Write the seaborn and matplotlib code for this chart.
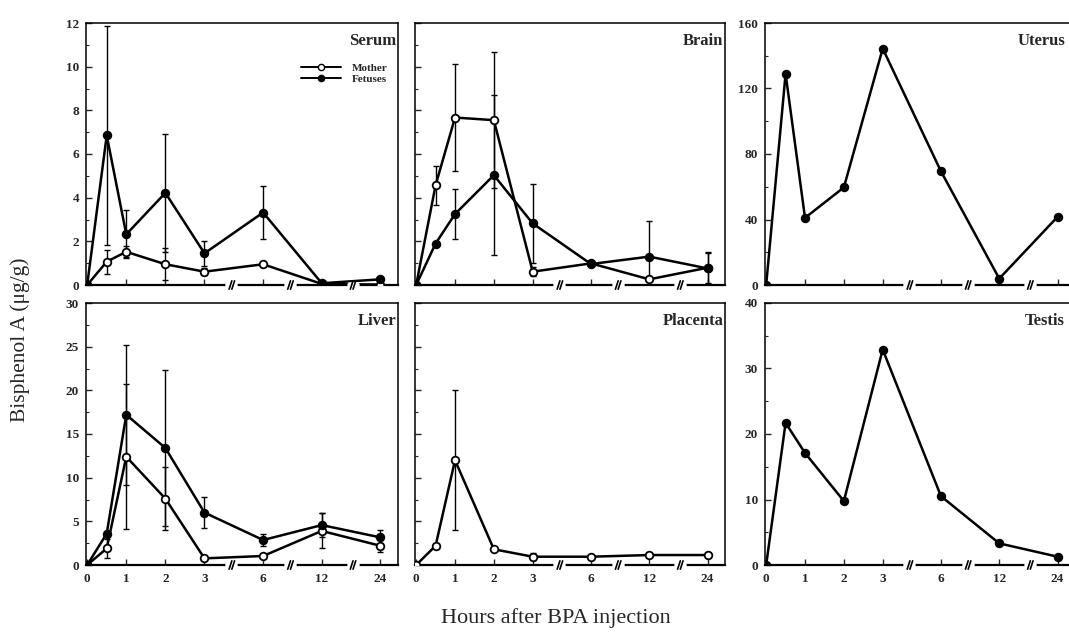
import numpy as np
import matplotlib
matplotlib.use('Agg')
import matplotlib.pyplot as plt
import seaborn as sns
from matplotlib.lines import Line2D
from matplotlib.ticker import MultipleLocator

# Data
hours = [0, 0.5, 1, 2, 3, 6, 12, 24]
hour_labels = ['0', '1', '2', '3', '6', '12', '24']
label_hours = [0, 1, 2, 3, 6, 12, 24]

serum_mother = [0, 1.07, 1.52, 0.95, 0.61, 0.95, 0.05, 0.02]
serum_mother_err = [0, 0.55, 0.25, 0.73, 0.15, 0, 0, 0]
serum_fetus = [0, 6.85, 2.32, 4.22, 1.45, 3.32, 0.08, 0.26]
serum_fetus_err = [0, 5.0, 1.1, 2.7, 0.58, 1.2, 0, 0]

brain_mother = [0, 4.57, 7.67, 7.55, 0.61, 0.99, 0.26, 0.79]
brain_mother_err = [0, 0.9, 2.45, 3.1, 0.2, 0, 0, 0.7]
brain_fetus = [0, 1.9, 3.25, 5.03, 2.82, 0.96, 1.3, 0.76]
brain_fetus_err = [0, 0, 1.15, 3.66, 1.8, 0, 1.65, 0.7]

uterus = [0, 129, 41, 59.6, 144.4, 69.4, 3.9, 41.6]

liver_mother = [0, 1.9, 12.4, 7.6, 0.76, 1.03, 3.9, 2.2]
liver_mother_err = [0, 1.1, 8.3, 3.6, 0, 0, 2.0, 0.7]
liver_fetus = [0, 3.6, 17.2, 13.4, 6.0, 2.86, 4.57, 3.16]
liver_fetus_err = [0, 0, 8.0, 8.9, 1.8, 0.7, 1.4, 0.8]

placenta_mother = [0, 2.2, 12.0, 1.8, 0.95, 0.95, 1.14, 1.14]
placenta_mother_err = [0, 0, 8.0, 0, 0.4, 0, 0, 0]

testis = [0, 21.7, 17.1, 9.76, 32.9, 10.5, 3.3, 1.27]


def broken_pos(h):
    # linear up to 3 h, then equal steps per doubling (broken axis)
    h = np.asarray(h, dtype=float)
    return np.where(h <= 3, h, 3 + 1.5 * np.log2(np.maximum(h, 3) / 3))


sns.set_style('ticks')
plt.rcParams['font.family'] = ['Liberation Serif', 'DejaVu Serif']

fig = plt.figure(figsize=(10.69, 6.35), dpi=100)
W, H = 1069, 635


def make_ax(l, r, t, b):
    return fig.add_axes([l / W, 1 - b / H, (r - l) / W, (b - t) / H])


ax_serum = make_ax(86, 398, 23, 285)
ax_brain = make_ax(415, 725, 23, 285)
ax_uterus = make_ax(765, 1075, 23, 285)
ax_liver = make_ax(86, 398, 303, 565)
ax_placenta = make_ax(415, 725, 303, 565)
ax_testis = make_ax(765, 1075, 303, 565)

xpos = broken_pos(hours)
tick_font = dict(family='Liberation Serif', weight='bold', size=9.5)


def series(ax, vals, err=None, filled=True):
    if err is not None:
        e = np.asarray(err)
        m = e > 0
        ax.errorbar(xpos[m], np.asarray(vals)[m], yerr=e[m], fmt='none',
                    ecolor='black', elinewidth=1.0, capsize=2, capthick=1.0, zorder=2)
    sns.lineplot(x=xpos, y=vals, ax=ax, color='black', lw=1.8, marker='o',
                 markersize=5.5, markeredgecolor='black', markeredgewidth=1.3,
                 markerfacecolor='black' if filled else 'white', zorder=3)


def style(ax, ymax, major, minor, title, ylabels=True, xlabels=False, title_x=0.995):
    ax.set_xlim(-0.03, 7.95)
    ax.set_ylim(0, ymax)
    ax.set_xlabel('')
    ax.set_ylabel('')
    ax.yaxis.set_major_locator(MultipleLocator(major))
    ax.yaxis.set_minor_locator(MultipleLocator(minor))
    ax.set_xticks(broken_pos(label_hours))
    ax.tick_params(which='both', direction='in', top=False, right=False)
    ax.tick_params(axis='x', pad=6)
    ax.tick_params(axis='y', pad=5)
    ax.tick_params(which='major', length=4, width=1)
    ax.tick_params(which='minor', length=2, width=0.8)
    if xlabels:
        ax.set_xticklabels(hour_labels, fontdict=tick_font)
    else:
        ax.set_xticklabels([])
    if ylabels:
        ax.set_yticks(ax.get_yticks())
        ax.set_yticklabels([f'{v:g}' for v in ax.get_yticks()], fontdict=tick_font)
        ax.set_ylim(0, ymax)
    else:
        ax.set_yticklabels([])
    for s in ax.spines.values():
        s.set_linewidth(1.1)
        s.set_color('black')
    ax.spines['bottom'].set_linewidth(1.6)
    ax.text(title_x, 0.96, title, transform=ax.transAxes, ha='right', va='top',
            fontsize=12, fontweight='bold', family='Liberation Serif')
    # axis break marks on the time axis
    trans = ax.get_xaxis_transform()
    for hb in [3.7, 5.2, 6.8]:
        ax.plot([hb - 0.09, hb + 0.09], [0, 0], color='white', lw=4,
                transform=trans, clip_on=False, zorder=5)
        for dx in (-0.035, 0.035):
            ax.plot([hb + dx - 0.035, hb + dx + 0.035], [-0.016, 0.016], color='black',
                    lw=1.2, transform=trans, clip_on=False, zorder=8)


series(ax_serum, serum_mother, serum_mother_err, filled=False)
series(ax_serum, serum_fetus, serum_fetus_err, filled=True)
style(ax_serum, 12, 2, 1, 'Serum')
handles = [Line2D([], [], color='black', lw=1.4, marker='o', ms=4.5,
                  markerfacecolor='white', markeredgecolor='black'),
           Line2D([], [], color='black', lw=1.4, marker='o', ms=4.5,
                  markerfacecolor='black', markeredgecolor='black')]
ax_serum.legend(handles, ['Mother', 'Fetuses'], loc='upper right',
                bbox_to_anchor=(1.0, 0.885), frameon=False, handlelength=3.6,
                handletextpad=1.0, labelspacing=0.15,
                prop=dict(family='Liberation Serif', weight='bold', size=8))

series(ax_brain, brain_mother, brain_mother_err, filled=False)
series(ax_brain, brain_fetus, brain_fetus_err, filled=True)
style(ax_brain, 12, 2, 1, 'Brain', ylabels=False)

series(ax_uterus, uterus, filled=True)
style(ax_uterus, 160, 40, 20, 'Uterus', title_x=0.968)
ax_uterus.spines['right'].set_visible(False)

series(ax_liver, liver_mother, liver_mother_err, filled=False)
series(ax_liver, liver_fetus, liver_fetus_err, filled=True)
style(ax_liver, 30, 5, 2.5, 'Liver', xlabels=True)

series(ax_placenta, placenta_mother, placenta_mother_err, filled=False)
style(ax_placenta, 30, 5, 2.5, 'Placenta', ylabels=False, xlabels=True)

series(ax_testis, testis, filled=True)
style(ax_testis, 40, 10, 5, 'Testis', xlabels=True, title_x=0.968)
ax_testis.spines['right'].set_visible(False)

fig.text(0.019, 0.465, 'Bisphenol A (μg/g)', rotation=90, ha='center', va='center',
         fontsize=15.5, family='Liberation Serif')
fig.text(0.52, 0.027, 'Hours after BPA injection', ha='center', va='center',
         fontsize=16, family='Liberation Serif')

fig.savefig('out.png', dpi=100)
